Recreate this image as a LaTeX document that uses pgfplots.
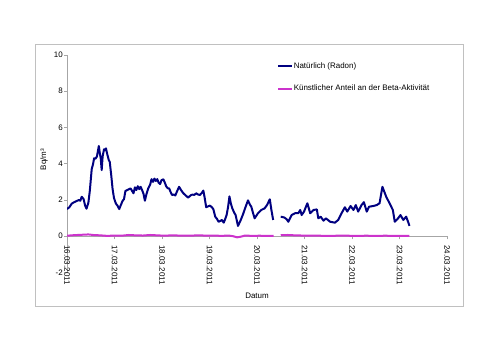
\documentclass[border=0pt]{standalone}
\usepackage{fontspec}
\setmainfont{Liberation Sans}
\usepackage{pgfplots}
\usepackage{pgfplotstable}
\pgfplotsset{compat=1.18}
\definecolor{radon}{HTML}{000080}
\definecolor{kuenst}{HTML}{CC33CC}
\definecolor{axgray}{HTML}{A6A6A6}
\definecolor{framegray}{HTML}{C0C0C0}
\pgfplotstableread{
x y
0.00 1.50
0.05 1.60
0.10 1.80
0.15 1.88
0.20 1.94
0.25 2.00
0.28 1.96
0.31 2.18
0.35 2.05
0.38 1.70
0.41 1.52
0.45 1.85
0.48 2.50
0.52 3.70
0.55 4.00
0.57 4.30
0.60 4.28
0.63 4.40
0.67 4.98
0.69 4.60
0.71 4.30
0.73 3.65
0.75 4.40
0.78 4.80
0.80 4.75
0.82 4.85
0.85 4.50
0.88 4.20
0.90 4.10
0.93 3.40
0.96 2.60
0.99 2.10
1.03 1.80
1.06 1.70
1.10 1.50
1.13 1.70
1.17 1.95
1.20 2.05
1.23 2.50
1.27 2.55
1.31 2.60
1.34 2.64
1.37 2.50
1.40 2.37
1.43 2.70
1.46 2.55
1.49 2.76
1.52 2.60
1.55 2.73
1.58 2.55
1.61 2.35
1.64 1.96
1.67 2.30
1.71 2.64
1.75 2.85
1.78 3.15
1.81 3.00
1.84 3.18
1.87 3.05
1.90 3.15
1.93 2.95
1.96 2.88
1.99 3.10
2.03 3.14
2.06 2.95
2.09 2.75
2.12 2.65
2.15 2.64
2.18 2.45
2.21 2.28
2.25 2.30
2.28 2.25
2.32 2.50
2.36 2.73
2.40 2.55
2.45 2.37
2.50 2.25
2.55 2.13
2.60 2.25
2.64 2.30
2.68 2.28
2.72 2.37
2.76 2.30
2.80 2.28
2.84 2.40
2.87 2.52
2.90 2.10
2.93 1.60
2.97 1.65
3.01 1.69
3.05 1.60
3.08 1.50
3.12 1.08
3.16 0.95
3.19 0.80
3.23 0.85
3.26 0.90
3.30 0.75
3.33 0.95
3.36 1.17
3.39 1.60
3.42 2.20
3.45 1.80
3.48 1.54
3.52 1.30
3.55 1.17
3.58 0.80
3.60 0.57
3.65 0.85
3.70 1.17
3.75 1.55
3.81 1.98
3.85 1.75
3.88 1.63
3.92 1.25
3.95 0.99
4.02 1.27
4.09 1.45
4.16 1.54
4.21 1.72
4.27 2.04
4.30 1.50
4.34 0.90
4.42 nan
4.50 1.08
4.57 1.04
4.62 0.95
4.66 0.80
4.73 1.17
4.80 1.27
4.87 1.27
4.91 1.45
4.94 1.17
4.99 1.36
5.06 1.82
5.12 1.27
5.19 1.45
5.26 1.48
5.29 0.99
5.34 1.08
5.40 0.86
5.45 0.99
5.54 0.80
5.64 0.75
5.71 0.90
5.78 1.27
5.85 1.60
5.90 1.36
5.97 1.67
6.03 1.45
6.08 1.72
6.13 1.36
6.20 1.72
6.25 1.88
6.31 1.36
6.36 1.63
6.45 1.67
6.52 1.72
6.58 1.82
6.64 2.73
6.72 2.18
6.79 1.82
6.86 1.45
6.90 0.80
6.97 0.99
7.02 1.17
7.08 0.90
7.14 1.08
7.18 0.80
7.21 0.57
}\radontable
\pgfplotstableread{
x y
0.00 0.03
0.15 0.06
0.30 0.08
0.45 0.10
0.55 0.07
0.70 0.05
0.85 0.02
1.00 0.04
1.15 0.03
1.30 0.07
1.45 0.05
1.60 0.04
1.75 0.07
1.90 0.05
2.05 0.03
2.20 0.05
2.35 0.04
2.50 0.03
2.65 0.04
2.80 0.05
2.95 0.03
3.10 0.04
3.25 0.02
3.40 0.04
3.50 0.00
3.58 -0.06
3.65 -0.03
3.75 0.04
3.90 0.02
4.05 0.03
4.20 0.02
4.35 0.02
4.42 nan
4.50 0.06
4.65 0.07
4.80 0.05
4.95 0.04
5.10 0.03
5.30 0.03
5.50 0.02
5.70 0.03
5.90 0.03
6.10 0.02
6.30 0.03
6.50 0.02
6.70 0.03
6.90 0.02
7.05 0.02
7.21 0.02
}\kuensttable
\begin{document}
\begin{tikzpicture}[x=1bp,y=1bp]
\begin{axis}[
  at={(67bp,80.5bp)}, anchor=south west,
  scale only axis, width=380bp, height=217.5bp,
  xmin=0, xmax=8, ymin=-2, ymax=10,
  axis x line*=middle, axis y line*=left,
  hide obscured x ticks=false, hide obscured y ticks=false,
  axis line style={axgray, line width=0.8bp},
  tick style={axgray, line width=0.8bp},
  major tick length=3bp, tick align=outside,
  font=\fontsize{8}{9.6}\selectfont,
  /pgf/number format/assume math mode=true,
  xtick={0,1,2,3,4,5,6,7,8},
  xticklabels={16.03.2011,17.03.2011,18.03.2011,19.03.2011,20.03.2011,21.03.2011,22.03.2011,23.03.2011,24.03.2011},
  xticklabel style={rotate=-90, anchor=west, inner xsep=6bp, inner ysep=0pt},
  ytick={-2,0,2,4,6,8,10},
  yticklabel style={anchor=east, inner xsep=1bp},
  xlabel={Datum},
  xlabel style={at={(rel axis cs:0.5,0)}, anchor=north, inner sep=0pt, yshift=-20.5bp},
  ylabel={Bq/m³},
  ylabel style={at={(rel axis cs:-0.0605,0.52)}, anchor=center, inner sep=0pt},
  unbounded coords=jump,
  legend cell align=left,
  legend style={at={(rel axis cs:0.5526,0.969)}, anchor=north west, draw=none, fill=none,
    font=\fontsize{8}{9.6}\selectfont, inner sep=0pt, row sep=14bp, column sep=0pt,
    nodes={inner sep=0.6bp}},
  legend image code/.code={\draw[#1] (0bp,0bp) -- (14bp,0bp);},
]
\addplot[radon, line width=2bp, line join=round] table[x=x,y=y] {\radontable};
\addlegendentry{Natürlich (Radon)}
\addplot[kuenst, line width=2bp, line join=round] table[x=x,y=y] {\kuensttable};
\addlegendentry{Künstlicher Anteil an der Beta-Aktivität}
\end{axis}
\draw[framegray, line width=0.8bp] (35,47) rectangle (463,309);
\pgfresetboundingbox
\path[use as bounding box] (0,0) rectangle (500,353);
\end{tikzpicture}
\end{document}
